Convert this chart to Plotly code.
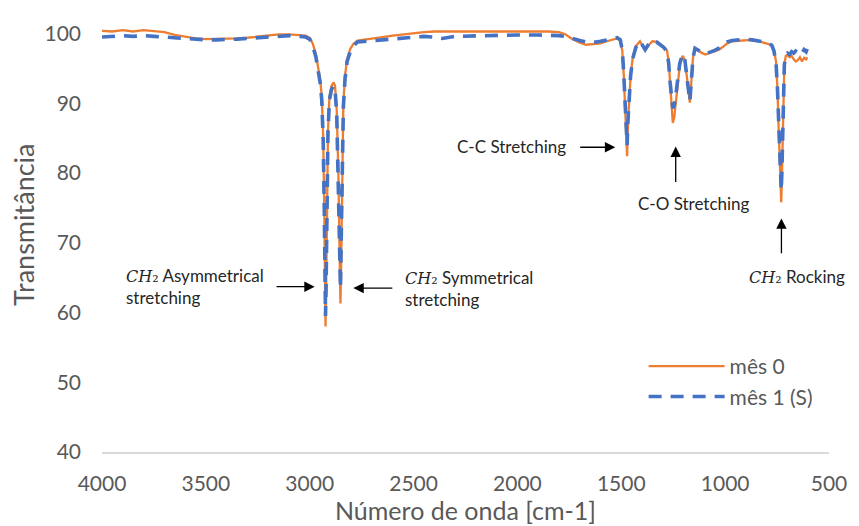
import plotly.graph_objects as go

# Wavenumber (cm-1)
wavenumber = [
    4000, 3950, 3900, 3850, 3800, 3750, 3700, 3650, 3600, 3550,
    3500, 3450, 3400, 3350, 3300, 3250, 3200, 3150, 3100, 3050,
    3020, 3000, 2985, 2970, 2960, 2950, 2942, 2935, 2930, 2926,
    2924, 2921, 2917, 2912, 2905, 2895, 2885, 2878, 2870, 2862,
    2856, 2852, 2848, 2843, 2838, 2830, 2820, 2805, 2790, 2770,
    2730, 2700, 2650, 2600, 2550, 2500, 2450, 2400, 2362, 2300,
    2200, 2100, 2000, 1900, 1850, 1800, 1770, 1740, 1700, 1670,
    1640, 1600, 1570, 1540, 1520, 1505, 1495, 1488, 1482, 1477,
    1472, 1468, 1462, 1455, 1445, 1430, 1410, 1395, 1385, 1370,
    1350, 1330, 1310, 1295, 1280, 1272, 1265, 1258, 1252, 1245,
    1238, 1228, 1218, 1205, 1195, 1185, 1177, 1170, 1163, 1155,
    1145, 1130, 1110, 1095, 1075, 1050, 1030, 1010, 990, 967,
    930, 900, 870, 840, 810, 790, 775, 765, 755, 748,
    742, 737, 733, 730, 727, 723, 719, 715, 708, 700,
    690, 680, 670, 660, 650, 640, 630, 620, 610, 605,
]

# Transmittance, month 0
mes0 = [
    100.4, 100.3, 100.5, 100.3, 100.5, 100.3, 100.2, 99.8, 99.5, 99.3,
    99.2, 99.2, 99.2, 99.3, 99.4, 99.6, 99.8, 99.9, 99.9, 99.8,
    99.7, 99.4, 98.5, 97.0, 95.5, 93.5, 91.0, 85.0, 75.0, 64.0,
    58.0, 63.0, 75.0, 86.0, 91.0, 92.5, 93.0, 92.5, 89.0, 80.0,
    68.0, 61.3, 68.0, 82.0, 90.0, 94.0, 96.3, 97.8, 98.5, 99.0,
    99.2, 99.3, 99.5, 99.7, 99.9, 100.0, 100.2, 100.3, 100.3, 100.3,
    100.4, 100.4, 100.4, 100.4, 100.3, 100.2, 99.9, 99.3, 98.7, 98.4,
    98.5, 98.6, 98.9, 99.2, 99.3, 99.0, 97.5, 94.0, 90.0, 85.5,
    82.4, 87.0, 91.0, 94.0, 96.5, 98.2, 98.9, 98.2, 97.6, 98.3,
    98.9, 98.8, 98.4, 98.1, 97.6, 96.0, 93.0, 89.5, 87.2, 88.0,
    90.0, 93.0, 95.5, 96.8, 96.3, 94.0, 91.5, 90.1, 93.0, 96.5,
    97.8, 97.5, 97.2, 97.0, 97.2, 97.5, 97.7, 98.1, 98.6, 98.9,
    99.0, 99.1, 99.1, 98.9, 98.7, 98.5, 98.3, 97.6, 96.0, 92.0,
    86.0, 80.0, 77.0, 75.8, 79.0, 86.0, 92.0, 95.5, 96.8, 96.9,
    96.6, 96.8, 96.3, 96.0, 96.2, 96.6, 96.0, 96.5, 96.3, 96.6,
]

# Transmittance, month 1 (S)
mes1 = [
    99.5, 99.6, 99.7, 99.6, 99.7, 99.6, 99.5, 99.4, 99.2, 99.1,
    99.1, 99.1, 99.1, 99.2, 99.3, 99.4, 99.5, 99.7, 99.7, 99.6,
    99.5, 99.2, 98.2, 96.6, 95.0, 93.0, 90.5, 84.5, 75.0, 65.0,
    59.5, 64.0, 75.5, 86.0, 90.5, 92.0, 92.5, 92.0, 88.5, 80.0,
    69.0, 63.5, 69.5, 82.5, 89.5, 93.5, 96.0, 97.4, 98.2, 98.8,
    98.9, 99.0, 99.1, 99.2, 99.4, 99.5, 99.6, 99.5, 99.3, 99.6,
    99.7, 99.8, 99.8, 99.8, 99.8, 99.7, 99.6, 99.3, 99.0, 98.8,
    98.7, 98.9, 99.1, 99.3, 99.4, 99.1, 97.6, 94.2, 90.5, 86.5,
    84.0, 87.5, 91.0, 94.0, 96.4, 98.0, 98.9, 98.3, 97.7, 98.4,
    99.0, 98.8, 98.4, 98.0, 97.4, 95.8, 93.0, 90.3, 89.3, 89.8,
    91.0, 93.5, 95.8, 97.0, 96.5, 94.0, 91.5, 90.3, 93.0, 96.5,
    97.9, 97.6, 97.3, 97.1, 97.3, 97.6, 97.9, 98.3, 98.8, 99.0,
    99.1, 99.2, 99.1, 99.0, 98.8, 98.6, 98.3, 97.5, 95.8, 92.0,
    86.5, 81.0, 78.2, 77.5, 80.0, 86.5, 92.0, 95.5, 96.9, 97.2,
    97.0, 97.4, 97.2, 97.5, 97.3, 97.6, 97.2, 97.7, 97.4, 97.8,
]

series_names = ["mês 0", "mês 1 (S)"]
x_ticks = [4000, 3500, 3000, 2500, 2000, 1500, 1000, 500]
y_ticks = [40, 50, 60, 70, 80, 90, 100]

assert len(wavenumber) == len(mes0) == len(mes1)

CH2 = ('<span style="font-family:DejaVu Serif;font-size:16px">'
       '<i>CH</i>₂</span>')

# annotation labels: (text, x, y, xanchor)
labels = [
    (CH2 + " Asymmetrical<br>stretching", 3895, 63.7, "left"),
    (CH2 + " Symmetrical<br>stretching", 2552, 63.4, "left"),
    ("C-C Stretching", 1757, 83.8, "right"),
    ("C-O Stretching", 1152, 75.6, "center"),
    (CH2 + " Rocking", 652, 65.2, "center"),
]
# arrows: (head_x, head_y, tail_x, tail_y)
arrows = [
    (2976, 63.7, 3167, 63.7),
    (2790, 63.5, 2595, 63.5),
    (1529, 83.7, 1705, 83.7),
    (1238, 83.8, 1238, 78.5),
    (729, 73.5, 729, 68.3),
]

fig = go.Figure()
fig.add_trace(go.Scatter(
    x=wavenumber, y=mes0, mode="lines", name=series_names[0],
    line=dict(color="#ED7D31", width=2.3),
))
fig.add_trace(go.Scatter(
    x=wavenumber, y=mes1, mode="lines", name=series_names[1],
    line=dict(color="#4472C4", width=3.6, dash="13px,9px"),
))

annotations = []
for text, x, y, xa in labels:
    annotations.append(dict(
        x=x, y=y, xref="x", yref="y", text=text, showarrow=False,
        xanchor=xa, yanchor="middle", align="left",
        font=dict(family="Lato", size=17, color="#262626"),
    ))
for hx, hy, tx, ty in arrows:
    annotations.append(dict(
        x=hx, y=hy, ax=tx, ay=ty, xref="x", yref="y", axref="x", ayref="y",
        text="", showarrow=True, arrowhead=2, arrowsize=1.6, arrowwidth=1.3,
        arrowcolor="black", standoff=0, startstandoff=0,
    ))
# y-axis title (placed like the reference, slightly above plot centre)
annotations.append(dict(
    x=-0.109, y=0.535, xref="paper", yref="paper", text="Transmitância",
    showarrow=False, textangle=-90, xanchor="center", yanchor="middle",
    font=dict(family="Lato", size=27, color="#595959"),
))

# page body has an 8px margin, so the figure is 8px smaller each way
fig.update_layout(
    width=851, height=518,
    margin=dict(l=94, r=23, t=13, b=73),
    plot_bgcolor="white", paper_bgcolor="white",
    font=dict(family="Lato", color="#595959"),
    showlegend=True,
    legend=dict(
        x=0.745, y=0.25, xanchor="left", yanchor="top",
        font=dict(size=21, color="#595959"),
        bgcolor="rgba(0,0,0,0)", itemwidth=76, tracegroupgap=0,
    ),
    annotations=annotations,
    xaxis=dict(
        range=[4000, 500], tickvals=x_ticks, showgrid=False, zeroline=False,
        showline=True, linecolor="#D9D9D9", linewidth=1.5, ticks="",
        ticklabelstandoff=12, tickfont=dict(size=21, color="#595959"),
        title=dict(text="Número de onda [cm-1]", font=dict(size=25, color="#595959"), standoff=2),
    ),
    yaxis=dict(
        range=[40, 100.8], tickvals=y_ticks, showgrid=False, zeroline=False,
        showline=False, ticks="", ticklabelstandoff=20,
        tickfont=dict(size=21, color="#595959"),
    ),
)

fig.write_html("out.html")
